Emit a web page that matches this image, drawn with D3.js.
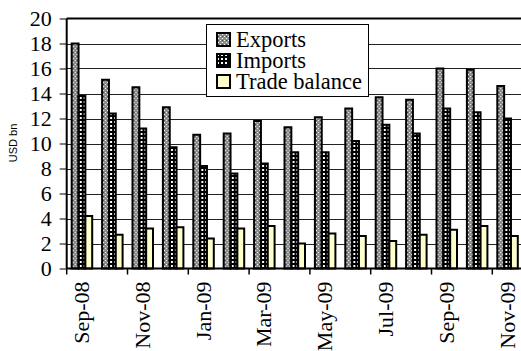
<!DOCTYPE html>
<head>
  <meta charset="utf-8">
</head>
<body style="margin:0">
  <script src="https://d3js.org/d3.v7.min.js"></script>
  <script>

    var months = ["Sep-08", "Oct-08", "Nov-08", "Dec-08", "Jan-09", "Feb-09", "Mar-09", "Apr-09",
                  "May-09", "Jun-09", "Jul-09", "Aug-09", "Sep-09", "Oct-09", "Nov-09"];
    var exportsVals = [18.0, 15.1, 14.5, 12.9, 10.7, 10.8, 11.8, 11.3, 12.1, 12.8, 13.7, 13.5, 16.0, 15.9, 14.6];
    var importsVals = [13.8, 12.4, 11.2, 9.7, 8.2, 7.6, 8.4, 9.3, 9.3, 10.2, 11.5, 10.8, 12.8, 12.5, 12.0];
    var balanceVals = [4.2, 2.7, 3.2, 3.3, 2.4, 3.2, 3.4, 2.0, 2.8, 2.6, 2.2, 2.7, 3.1, 3.4, 2.6];
    var seriesNames = ["Exports", "Imports", "Trade balance"];
    var yTicks = [0, 2, 4, 6, 8, 10, 12, 14, 16, 18, 20];

    var width = 521, height = 351;
    var plotLeft = 66.7, plotTop = 18.5, plotBottom = 268.5, step = 30.4;
    var serifFont = "'Liberation Serif'";
    var fontSize = "22px";

    var svg = d3.select("body").append("svg")
      .attr("width", width)
      .attr("height", height)
      .style("display", "block")
      .style("font-family", serifFont)

    // fill patterns
    var defs = svg.append("defs")
    var pe = defs.append("pattern").attr("id", "patExp")
      .attr("patternUnits", "userSpaceOnUse").attr("width", 4).attr("height", 4)
    pe.append("rect").attr("width", 4).attr("height", 4).attr("fill", "#8c8c8c")
    pe.append("rect").attr("x", 0).attr("y", 0).attr("width", 1).attr("height", 1).attr("fill", "#fff")
    pe.append("rect").attr("x", 2).attr("y", 2).attr("width", 1).attr("height", 1).attr("fill", "#fff")
    pe.append("rect").attr("x", 2).attr("y", 0).attr("width", 1).attr("height", 1).attr("fill", "#444")

    var pi = defs.append("pattern").attr("id", "patImp")
      .attr("patternUnits", "userSpaceOnUse").attr("width", 4).attr("height", 4)
    pi.append("rect").attr("width", 4).attr("height", 4).attr("fill", "#000")
    pi.append("rect").attr("x", 1).attr("y", 1).attr("width", 2).attr("height", 2).attr("fill", "#fff")

    var fills = ["url(#patExp)", "url(#patImp)", "#ffffcc"];

    var x = d3.scaleBand()
      .domain(months)
      .range([plotLeft, plotLeft + step * months.length])
      .padding(0)

    var xs = d3.scaleBand()
      .domain(seriesNames)
      .range([5, 25.5])
      .padding(0)

    var y = d3.scaleLinear()
      .domain([0, 20])
      .range([plotBottom, plotTop])

    // gridlines
    svg.append("g")
      .selectAll("line")
      .data(yTicks.slice(1, -1))
      .enter().append("line")
        .attr("x1", plotLeft).attr("x2", width)
        .attr("y1", function(d) { return Math.round(y(d)) + 0.5; })
        .attr("y2", function(d) { return Math.round(y(d)) + 0.5; })
        .attr("stroke", "#222")
        .attr("stroke-width", 1)

    // top border
    svg.append("line")
      .attr("x1", plotLeft).attr("x2", width)
      .attr("y1", y(20)).attr("y2", y(20))
      .attr("stroke", "#000").attr("stroke-width", 2)

    // bars
    var data = months.map(function(m, i) {
      return { month: m, vals: [exportsVals[i], importsVals[i], balanceVals[i]] };
    });

    var groups = svg.append("g")
      .selectAll("g")
      .data(data)
      .enter().append("g")
        .attr("transform", function(d) { return "translate(" + x(d.month) + ",0)"; })

    groups.selectAll("rect")
      .data(function(d) { return d.vals.map(function(v, k) { return { k: k, v: v }; }); })
      .enter().append("rect")
        .attr("x", function(d) { return xs(seriesNames[d.k]); })
        .attr("width", xs.bandwidth())
        .attr("y", function(d) { return y(d.v); })
        .attr("height", function(d) { return y(0) - y(d.v); })
        .attr("fill", function(d) { return fills[d.k]; })
        .attr("stroke", "#000")
        .attr("stroke-width", 2)

    // y axis
    var yAxis = svg.append("g")
      .attr("transform", "translate(" + plotLeft + ",0)")
      .call(d3.axisLeft(y).tickValues(yTicks).tickSize(7).tickPadding(8).tickFormat(d3.format("d")))
    yAxis.attr("font-family", null).attr("font-size", null)
    yAxis.select(".domain").attr("stroke-width", 2).attr("d", "M0," + plotTop + "V" + plotBottom)
    yAxis.selectAll(".tick line").attr("stroke", "#000")
    yAxis.selectAll("text")
      .style("font-family", serifFont)
      .style("font-size", fontSize)
      .attr("fill", "#000")

    // x axis
    var xAxis = svg.append("g")
      .attr("transform", "translate(0," + plotBottom + ")")
    xAxis.append("line")
      .attr("x1", plotLeft).attr("x2", width)
      .attr("stroke", "#000").attr("stroke-width", 2)
    xAxis.selectAll(".xtick")
      .data(months.filter(function(d, i) { return i % 2 == 0; }))
      .enter().append("line")
        .attr("class", "xtick")
        .attr("x1", function(d) { return x(d); })
        .attr("x2", function(d) { return x(d); })
        .attr("y1", 0).attr("y2", 6)
        .attr("stroke", "#000").attr("stroke-width", 1.5)
    xAxis.selectAll(".xlabel")
      .data(months.filter(function(d, i) { return i % 2 == 0; }))
      .enter().append("text")
        .attr("class", "xlabel")
        .attr("transform", function(d) {
          return "translate(" + (x(d) + x.bandwidth() / 2 + 7) + ",13) rotate(-90)";
        })
        .attr("text-anchor", "end")
        .style("font-family", serifFont)
        .style("font-size", fontSize)
        .attr("fill", "#000")
        .text(function(d) { return d; })

    // y axis title
    svg.append("text")
      .attr("transform", "translate(17,143) rotate(-90)")
      .attr("text-anchor", "middle")
      .style("font-family", "'Liberation Sans'")
      .style("font-size", "11px")
      .attr("fill", "#000")
      .text("USD bn")

    // legend
    var legend = svg.append("g").attr("transform", "translate(206,24)")
    legend.append("rect")
      .attr("x", 0.5).attr("y", 0.5)
      .attr("width", 162).attr("height", 72)
      .attr("fill", "#fff")
      .attr("stroke", "#000").attr("stroke-width", 1)

    var items = legend.selectAll(".item")
      .data(seriesNames)
      .enter().append("g")
        .attr("class", "item")
        .attr("transform", function(d, i) { return "translate(10," + (8 + i * 21) + ")"; })
    items.append("rect")
      .attr("x", 1).attr("y", 1)
      .attr("width", 13).attr("height", 13)
      .attr("fill", function(d, i) { return fills[i]; })
      .attr("stroke", "#000").attr("stroke-width", 2)
    items.append("text")
      .attr("x", 20).attr("y", 15)
      .style("font-family", serifFont)
      .style("font-size", "22.5px")
      .attr("fill", "#000")
      .text(function(d) { return d; })

    </script>
</body>
